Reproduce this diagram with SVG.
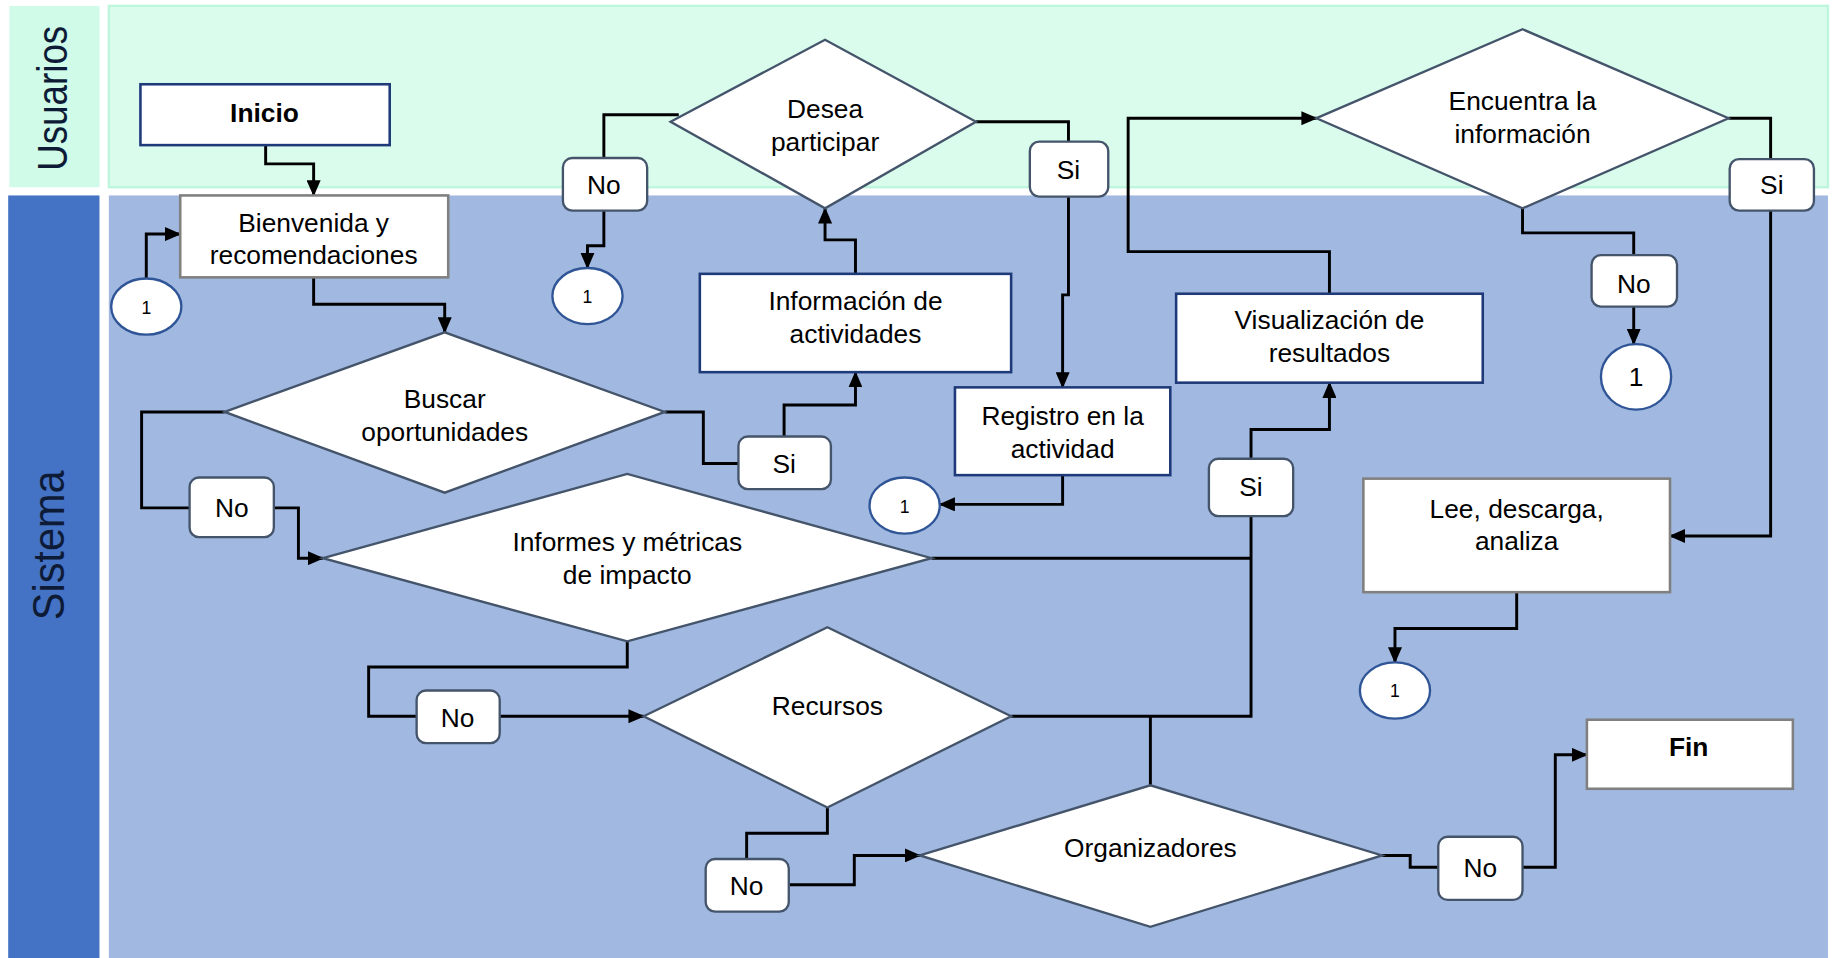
<svg xmlns="http://www.w3.org/2000/svg" width="1835" height="958" viewBox="0 0 1835 958">
<defs>
<marker id="ah" markerUnits="userSpaceOnUse" markerWidth="14" markerHeight="12" refX="13" refY="6" orient="auto" viewBox="0 0 14 12"><path d="M0,0 L14,6 L0,12 z" fill="#000"/></marker>
<style>
.t{font-family:"Liberation Sans",Arial,sans-serif;font-size:22.5px;fill:#000;text-anchor:middle}
.b{font-weight:bold}
.one{font-size:15px}
.lane{font-family:"Liberation Sans",Arial,sans-serif;text-anchor:middle;fill:#0E1B36}
.dia{fill:#fff;stroke:#44546A;stroke-width:2}
.pb{fill:#fff;stroke:#1F3A78;stroke-width:2.2}
.pg{fill:#fff;stroke:#808080;stroke-width:2.2}
.lb{fill:#fff;stroke:#44546A;stroke-width:2}
.cir{fill:#fff;stroke:#2F5597;stroke-width:2}
.c{fill:none;stroke:#000;stroke-width:2.5}
.ca{fill:none;stroke:#000;stroke-width:2.5;marker-end:url(#ah)}
</style>
</defs>
<rect width="1835" height="958" fill="#fff"/>
<g transform="scale(1.17028)">
<g id="lanes">
<rect x="8" y="5" width="77" height="155" fill="#CFFBE8"/>
<rect x="93" y="5" width="1469" height="155" fill="#DAFCEC" stroke="#BDF6DC" stroke-width="2"/>
<rect x="7" y="167" width="78" height="652" fill="#4472C4"/>
<rect x="93" y="167" width="1469" height="652" fill="#A1B8E0"/>
<text class="lane" transform="translate(57,84) rotate(-90)" font-size="36" textLength="124" lengthAdjust="spacingAndGlyphs">Usuarios</text>
<text class="lane" transform="translate(55,466) rotate(-90)" font-size="38" textLength="128" lengthAdjust="spacingAndGlyphs">Sistema</text>
</g>
<g id="connectors">
<path class="ca" d="M227,124 V140 H268 V167"/>
<path class="ca" d="M125,238 V200 H154"/>
<path class="ca" d="M268,237 V260 H380 V284"/>
<path class="c" d="M568,352 H601 V396 H631"/>
<path class="ca" d="M670,373 V346 H731 V318"/>
<path class="ca" d="M731,234 V205 H705 V178"/>
<path class="c" d="M580,98 H516 V135"/>
<path class="ca" d="M516,180 V210 H502 V229"/>
<path class="c" d="M834,104 H913 V121"/>
<path class="ca" d="M913,168 V252 H908 V331"/>
<path class="ca" d="M908,406 V431 H803"/>
<path class="c" d="M192,352 H121 V434 H162"/>
<path class="ca" d="M234,434 H255 V477 H276"/>
<path class="c" d="M796,477 H1069"/>
<path class="c" d="M1069,441 V612 H864"/>
<path class="c" d="M983,671 V612"/>
<path class="ca" d="M1069,392 V367 H1136 V327"/>
<path class="ca" d="M1136,251 V215 H964 V101 H1125"/>
<path class="c" d="M1477,101 H1513 V136"/>
<path class="ca" d="M1513,180 V458 H1427"/>
<path class="c" d="M1301,178 V199 H1396 V218"/>
<path class="ca" d="M1396,262 V294"/>
<path class="ca" d="M1296,506 V537 H1192 V566"/>
<path class="c" d="M536,548 V570 H315 V612 H356"/>
<path class="ca" d="M427,612 H550"/>
<path class="c" d="M707,690 V712 H638 V734"/>
<path class="ca" d="M674,756 H730 V731 H786"/>
<path class="c" d="M1181,731 H1205 V741 H1229"/>
<path class="ca" d="M1301,741 H1329 V645 H1356"/>
</g>
<g id="inicio"><rect class="pb" x="120" y="72" width="213" height="52"/><text class="t b" x="226" y="104">Inicio</text></g>
<g id="bienvenida"><rect class="pg" x="154" y="167" width="229" height="70"/><text class="t" x="268" y="198">Bienvenida y</text><text class="t" x="268" y="226">recomendaciones</text></g>
<g id="c1"><ellipse class="cir" cx="125" cy="262" rx="30" ry="24"/><text class="t one" x="125" y="268">1</text></g>
<g id="buscar"><polygon class="dia" points="192,352 380,284 568,352 380,421"/><text class="t" x="380" y="349">Buscar</text><text class="t" x="380" y="377">oportunidades</text></g>
<g id="desea"><polygon class="dia" points="573,104 705,34 834,104 705,178"/><text class="t" x="705" y="101">Desea</text><text class="t" x="705" y="129">participar</text></g>
<g id="no1"><rect class="lb" x="481" y="135" width="72" height="45" rx="8"/><text class="t" x="516" y="166">No</text></g>
<g id="c2"><ellipse class="cir" cx="502" cy="253" rx="30" ry="24"/><text class="t one" x="502" y="259">1</text></g>
<g id="informacion"><rect class="pb" x="598" y="234" width="266" height="84"/><text class="t" x="731" y="265">Información de</text><text class="t" x="731" y="293">actividades</text></g>
<g id="si1"><rect class="lb" x="631" y="373" width="79" height="45" rx="8"/><text class="t" x="670" y="404">Si</text></g>
<g id="si2"><rect class="lb" x="880" y="121" width="67" height="47" rx="8"/><text class="t" x="913" y="153">Si</text></g>
<g id="registro"><rect class="pb" x="816" y="331" width="184" height="75"/><text class="t" x="908" y="363">Registro en la</text><text class="t" x="908" y="391">actividad</text></g>
<g id="c3"><ellipse class="cir" cx="773" cy="432" rx="30" ry="24"/><text class="t one" x="773" y="438">1</text></g>
<g id="informes"><polygon class="dia" points="276,477 536,405 796,477 536,548"/><text class="t" x="536" y="471">Informes y métricas</text><text class="t" x="536" y="499">de impacto</text></g>
<g id="no2"><rect class="lb" x="162" y="408" width="72" height="51" rx="8"/><text class="t" x="198" y="442">No</text></g>
<g id="no3"><rect class="lb" x="356" y="590" width="71" height="45" rx="8"/><text class="t" x="391" y="621">No</text></g>
<g id="recursos"><polygon class="dia" points="550,612 707,536 864,612 707,690"/><text class="t" x="707" y="611">Recursos</text></g>
<g id="no4"><rect class="lb" x="603" y="734" width="71" height="45" rx="8"/><text class="t" x="638" y="765">No</text></g>
<g id="organizadores"><polygon class="dia" points="786,731 983,671 1181,731 983,792"/><text class="t" x="983" y="732">Organizadores</text></g>
<g id="no5"><rect class="lb" x="1229" y="715" width="72" height="54" rx="8"/><text class="t" x="1265" y="749">No</text></g>
<g id="fin"><rect class="pg" x="1356" y="615" width="176" height="59"/><text class="t b" x="1443" y="646">Fin</text></g>
<g id="visualizacion"><rect class="pb" x="1005" y="251" width="262" height="76"/><text class="t" x="1136" y="281">Visualización de</text><text class="t" x="1136" y="309">resultados</text></g>
<g id="si3"><rect class="lb" x="1033" y="392" width="72" height="49" rx="8"/><text class="t" x="1069" y="424">Si</text></g>
<g id="encuentra"><polygon class="dia" points="1125,101 1301,25 1477,101 1301,178"/><text class="t" x="1301" y="94">Encuentra la</text><text class="t" x="1301" y="122">información</text></g>
<g id="si4"><rect class="lb" x="1478" y="136" width="72" height="44" rx="8"/><text class="t" x="1514" y="166">Si</text></g>
<g id="no6"><rect class="lb" x="1360" y="218" width="73" height="44" rx="8"/><text class="t" x="1396" y="250">No</text></g>
<g id="c4"><ellipse class="cir" cx="1398" cy="322" rx="30" ry="28"/><text class="t" x="1398" y="330" font-size="20">1</text></g>
<g id="lee"><rect class="pg" x="1165" y="409" width="262" height="97"/><text class="t" x="1296" y="443">Lee, descarga,</text><text class="t" x="1296" y="470">analiza</text></g>
<g id="c5"><ellipse class="cir" cx="1192" cy="590" rx="30" ry="24"/><text class="t one" x="1192" y="596">1</text></g>
</g>
</svg>
